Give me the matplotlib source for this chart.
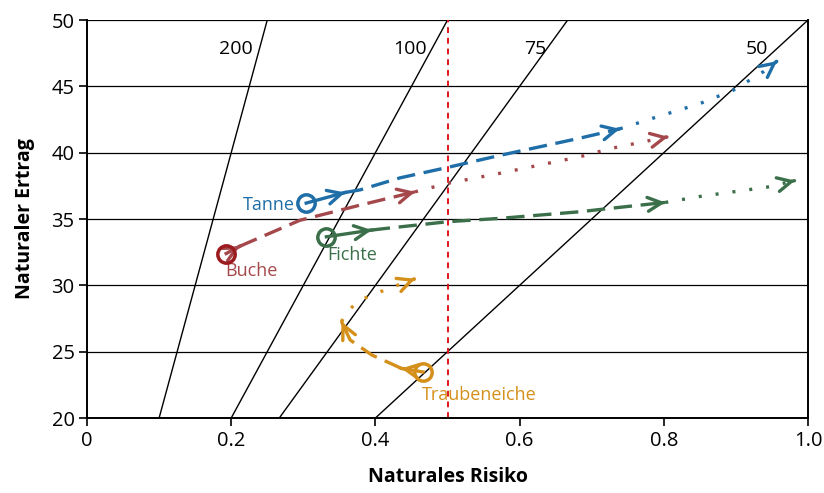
# Ertrag-Risiko Diagramm: Baumarten-Pfade mit Iso-Linien

import numpy as np
import matplotlib.pyplot as plt

plt.rcParams['font.family'] = ['Open Sans', 'DejaVu Sans']

# iso lines y = k * x
isoSlopes = [200, 100, 75, 50]
isoLabelX = [0.207, 0.448, 0.621, 0.929]
isoLabelY = 47.8

# species paths: (start circle, solid step, dashed step, dotted step)
species = ["Tanne", "Buche", "Fichte", "Traubeneiche"]

tanneSolid = [(0.304, 36.2), (0.358, 37.0)]
tanneDash = [(0.358, 37.0), (0.379, 37.2), (0.434, 38.1), (0.501, 38.9),
             (0.573, 39.8), (0.684, 41.1), (0.739, 41.8)]
tanneDot = [(0.739, 41.8), (0.785, 42.6), (0.850, 43.7), (0.896, 44.7),
            (0.938, 46.1), (0.957, 46.9)]

bucheSolid = [(0.193, 32.4), (0.212, 32.95)]
bucheDash = [(0.212, 32.95), (0.295, 34.9), (0.379, 36.05), (0.455, 37.05)]
bucheDot = [(0.455, 37.05), (0.501, 37.7), (0.573, 38.45), (0.684, 39.7),
            (0.725, 40.3), (0.806, 41.2)]

fichteSolid = [(0.332, 33.66), (0.395, 34.17)]
fichteDash = [(0.395, 34.17), (0.416, 34.3), (0.501, 34.8), (0.573, 35.05),
              (0.684, 35.55), (0.725, 35.8), (0.802, 36.25)]
fichteDot = [(0.802, 36.25), (0.850, 36.7), (0.943, 37.4), (0.982, 37.9)]

eicheSolid = [(0.466, 23.47), (0.436, 23.74)]
eicheDash = [(0.436, 23.74), (0.420, 24.14), (0.395, 24.75), (0.365, 25.88),
             (0.353, 27.26)]
eicheDot = [(0.353, 27.26), (0.360, 28.0), (0.379, 28.9), (0.406, 29.5),
            (0.455, 30.5)]

paths = [(tanneSolid, tanneDash, tanneDot),
         (bucheSolid, bucheDash, bucheDot),
         (fichteSolid, fichteDash, fichteDot),
         (eicheSolid, eicheDash, eicheDot)]

lineColors = ["#1f6ea8", "#a5484b", "#3b6f4a", "#d4901a"]
circleColors = ["#1f6ea8", "#9b1b1f", "#3b6f4a", "#d4901a"]
labelPos = [(0.288, 36.05, 'right'), (0.192, 31.05, 'left'),
            (0.333, 32.25, 'left'), (0.464, 21.75, 'left')]

fig = plt.figure(figsize=(8.24, 4.93), dpi=100)
ax = fig.add_axes([0.1056, 0.1521, 0.875, 0.8073])

ax.set_xlim(0, 1.0)
ax.set_ylim(20, 50)

# horizontal grid
for yv in range(25, 51, 5):
    ax.axhline(yv, color="black", lw=0.9, zorder=1)

# iso lines
xx = np.array([0.0, 1.0])
for k, lx in zip(isoSlopes, isoLabelX):
    ax.plot(xx, k * xx, color="black", lw=1.0, zorder=2)
    ax.text(lx, isoLabelY, str(k), ha='center', va='center', fontsize=14)

# red limit line
ax.axvline(0.5, color="#e0161c", lw=1.4, ls=(0, (3, 2.5)), zorder=2)

for i, (solid, dash, dot) in enumerate(paths):
    c = lineColors[i]
    segs = [(solid, '-'), (dash, (0, (5.5, 2.6))), (dot, (0, (0.9, 4.2)))]
    for pts, ls in segs:
        px = [p[0] for p in pts]
        py = [p[1] for p in pts]
        ax.plot(px, py, color=c, lw=2.4, ls=ls, dash_capstyle='butt', zorder=4)
        # arrow head only, with a tiny shaft along the last step
        x1, y1 = pts[-1]
        x0, y0 = pts[-2]
        tail = (x1 - 0.02 * (x1 - x0), y1 - 0.02 * (y1 - y0))
        ax.annotate('', xy=pts[-1], xytext=tail,
                    arrowprops=dict(arrowstyle='->', color=c, lw=2.4,
                                    mutation_scale=25, shrinkA=0, shrinkB=0),
                    zorder=5)
    ax.plot(solid[0][0], solid[0][1], 'o', ms=12.5, mfc='none',
            mec=circleColors[i], mew=2.5, zorder=6)
    lx, ly, ha = labelPos[i]
    ax.text(lx, ly, species[i], ha=ha, va='center', fontsize=13, color=c)

ax.set_xticks([0, 0.2, 0.4, 0.6, 0.8, 1.0])
ax.set_xticklabels(["0", "0.2", "0.4", "0.6", "0.8", "1.0"])
ax.set_yticks(range(20, 51, 5))
ax.tick_params(direction='out', length=6, width=1.2, labelsize=14.5, pad=3)

for s in ['left', 'right', 'bottom']:
    ax.spines[s].set_linewidth(1.4)
ax.spines['top'].set_visible(False)

ax.set_xlabel("Naturales Risiko", fontsize=14, fontweight='bold', labelpad=12)
ax.set_ylabel("Naturaler Ertrag", fontsize=14, fontweight='bold', labelpad=12)

plt.savefig("out.png", dpi=100)
